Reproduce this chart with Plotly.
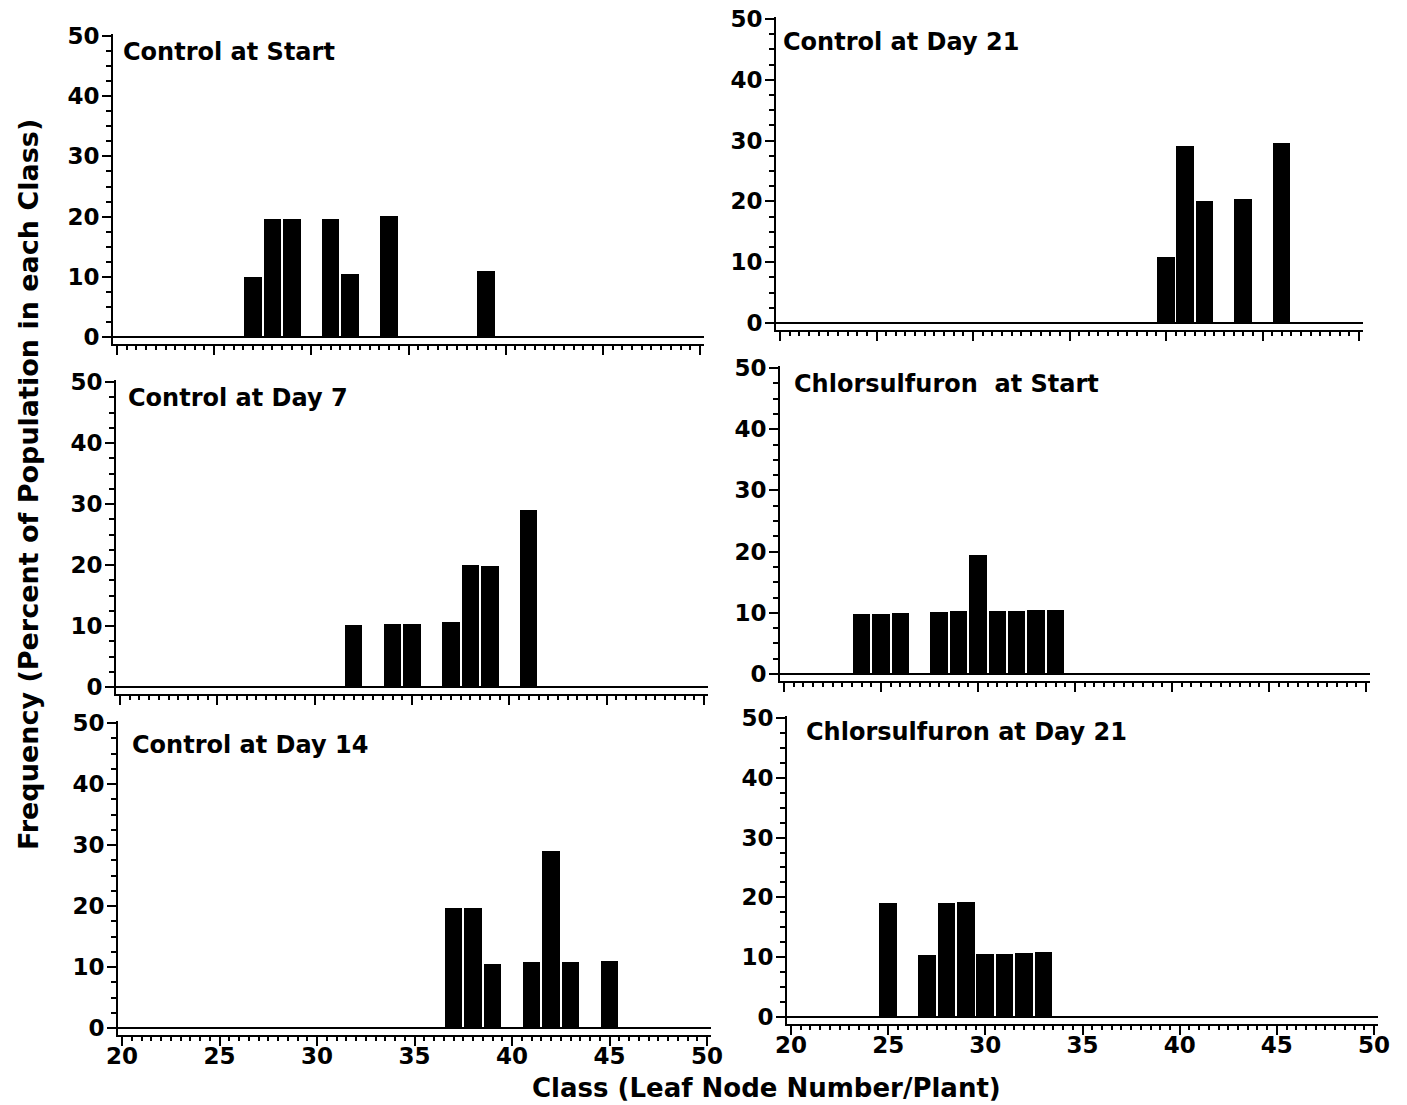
import plotly.graph_objects as go

# ---------------- data ----------------
titles = ["Control at Start", "Control at Day 7", "Control at Day 14",
          "Control at Day 21", "Chlorsulfuron  at Start", "Chlorsulfuron at Day 21"]

ctrl_start_class = [27, 28, 29, 31, 32, 34, 39]
ctrl_start_freq = [10, 19.5, 19.5, 19.5, 10.5, 20, 11]

ctrl_d7_class = [32, 34, 35, 37, 38, 39, 41]
ctrl_d7_freq = [10.2, 10.3, 10.3, 10.6, 20, 19.8, 29]

ctrl_d14_class = [37, 38, 39, 41, 42, 43, 45]
ctrl_d14_freq = [19.6, 19.7, 10.5, 10.8, 29, 10.8, 10.9]

ctrl_d21_class = [40, 41, 42, 44, 46]
ctrl_d21_freq = [10.8, 29.1, 20.1, 20.3, 29.6]

chl_start_class = [24, 25, 26, 28, 29, 30, 31, 32, 33, 34]
chl_start_freq = [9.8, 9.8, 10, 10.1, 10.3, 19.4, 10.3, 10.3, 10.4, 10.4]

chl_d21_class = [25, 27, 28, 29, 30, 31, 32, 33]
chl_d21_freq = [19.1, 10.3, 19.1, 19.2, 10.5, 10.5, 10.6, 10.8]

x_ticks = [20, 25, 30, 35, 40, 45, 50]
y_ticks = [0, 10, 20, 30, 40, 50]

# ---------------- layout geometry ----------------
W, H = 1407, 1105
FONT = "DejaVu Sans"

# (x pixel of 20, x pixel of 50, y pixel of 0, y pixel of 50, title x px, title y px, bottom row?)
geom = [
    (117, 700, 337, 36, 121, 52, False),
    (120, 704, 687, 382, 126, 398, False),
    (122, 707, 1028, 723, 130, 745, True),
    (780, 1359, 323, 19, 781, 42, False),
    (784, 1366, 674, 368, 792, 384, False),
    (791, 1374, 1017, 718, 804, 732, True),
]
data = [
    (ctrl_start_class, ctrl_start_freq),
    (ctrl_d7_class, ctrl_d7_freq),
    (ctrl_d14_class, ctrl_d14_freq),
    (ctrl_d21_class, ctrl_d21_freq),
    (chl_start_class, chl_start_freq),
    (chl_d21_class, chl_d21_freq),
]

XR = (19.8, 50.2)
YR = (-1.2, 50.3)

fig = go.Figure()
layout = dict(
    width=W, height=H,
    margin=dict(l=0, r=0, t=0, b=0, autoexpand=False),
    paper_bgcolor="white", plot_bgcolor="white",
    showlegend=False, bargap=0,
    annotations=[],
)

for i, ((cls, frq), g) in enumerate(zip(data, geom), start=1):
    x20, x50, y0, y50, tx, ty, bottom = g
    pxu = (x50 - x20) / 30.0
    pyu = (y0 - y50) / 50.0
    xl = x20 + (XR[0] - 20) * pxu
    xr = x20 + (XR[1] - 20) * pxu
    yb = y0 - (YR[0]) * pyu
    yt = y0 - (YR[1]) * pyu
    sx = "" if i == 1 else str(i)
    fig.add_trace(go.Bar(
        x=cls, y=frq, width=0.9,
        marker=dict(color="black", line=dict(width=0)),
        xaxis="x" + sx, yaxis="y" + sx, hoverinfo="skip",
    ))
    layout["xaxis" + sx] = dict(
        domain=[xl / W, xr / W], range=list(XR), anchor="y" + sx,
        automargin=False,
        showline=True, linewidth=2, linecolor="black",
        ticks="outside", ticklen=9, tickwidth=2, tickcolor="black",
        tickvals=x_ticks, showticklabels=bottom, ticklabelstandoff=-10,
        tickfont=dict(family=FONT, size=23, color="black", weight="bold"),
        minor=dict(dtick=0.5, tick0=20, ticks="outside", ticklen=4,
                   tickwidth=1.5, tickcolor="black", showgrid=False),
        showgrid=False, zeroline=False, fixedrange=True,
    )
    layout["yaxis" + sx] = dict(
        domain=[1 - yb / H, 1 - yt / H], range=list(YR), anchor="x" + sx,
        automargin=False,
        showline=True, linewidth=2, linecolor="black",
        ticks="outside", ticklen=9, tickwidth=2, tickcolor="black",
        tickvals=y_ticks, ticklabelstandoff=-2,
        tickfont=dict(family=FONT, size=23, color="black", weight="bold"),
        minor=dict(dtick=2.5, tick0=0, ticks="outside", ticklen=5,
                   tickwidth=1.5, tickcolor="black", showgrid=False),
        showgrid=False, zeroline=True, zerolinecolor="black", zerolinewidth=2,
        fixedrange=True,
    )
    layout["annotations"].append(dict(
        text=titles[i - 1], xref="paper", yref="paper",
        x=tx / W, y=1 - ty / H, xanchor="left", yanchor="middle",
        showarrow=False,
        font=dict(family=FONT, size=24, color="black", weight="bold"),
    ))

layout["annotations"].append(dict(
    text="Frequency (Percent of Population in each Class)",
    xref="paper", yref="paper", x=28 / W, y=1 - 485 / H,
    xanchor="center", yanchor="middle", textangle=-90, showarrow=False,
    font=dict(family=FONT, size=27, color="black", weight="bold"),
))
layout["annotations"].append(dict(
    text="Class (Leaf Node Number/Plant)",
    xref="paper", yref="paper", x=766 / W, y=1 - 1088 / H,
    xanchor="center", yanchor="middle", showarrow=False,
    font=dict(family=FONT, size=26, color="black", weight="bold"),
))

fig.update_layout(**layout)
fig.write_html(
    "out.html",
    config={"displayModeBar": False},
    post_script="document.body.style.margin='0';document.documentElement.style.overflow='hidden';",
)
